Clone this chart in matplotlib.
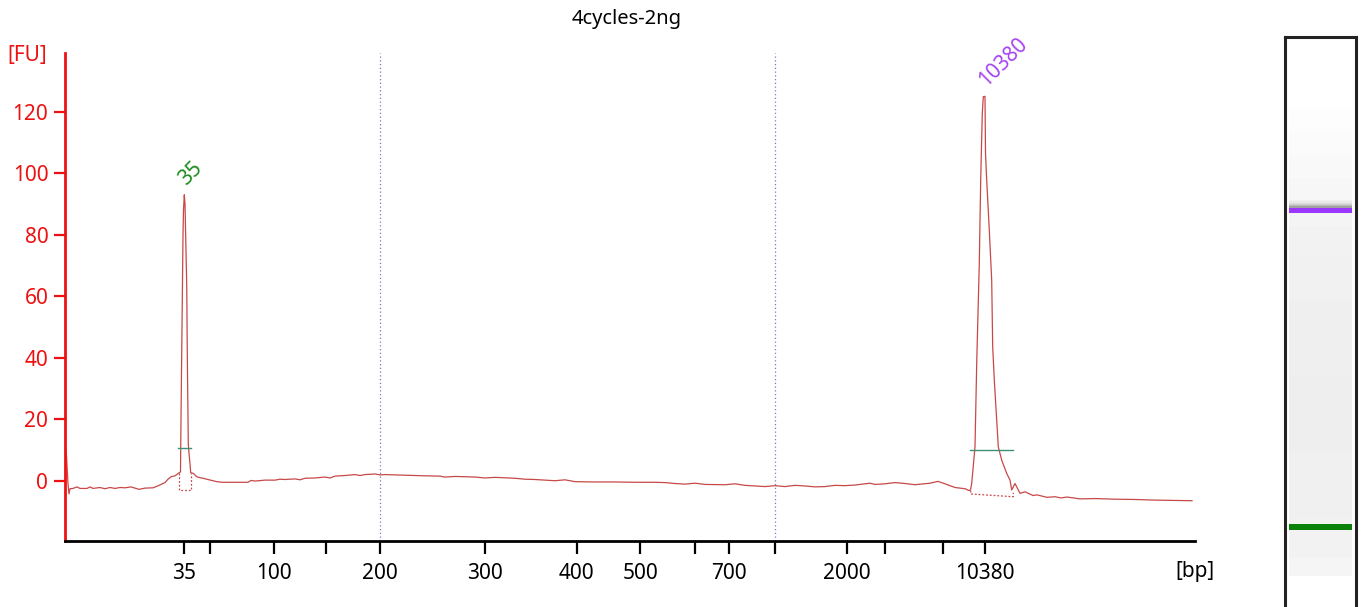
import matplotlib
matplotlib.use("Agg")
import matplotlib.pyplot as plt
import numpy as np

plt.rcParams['font.family'] = ['Noto Sans', 'DejaVu Sans']

# electropherogram trace, migration time (arbitrary units) vs fluorescence [FU]
trace_time = [0.05, 0.15, 0.3, 0.4, 0.5, 0.8, 1.2, 1.5, 2.2, 2.5, 2.8, 3.5, 4.0, 4.5, 5.0, 5.5,
              6.0, 6.6, 7.0, 7.4, 8.0, 8.8, 9.2, 9.6, 10.0, 10.3, 10.6, 11.0, 11.35, 11.55,
              11.6, 11.7, 11.8, 11.85, 11.93, 12.0, 12.1, 12.17, 12.25, 12.33, 12.4, 12.5, 12.57,
              12.83, 13.17, 13.5, 13.83, 14.5, 15.17, 15.7, 17.0, 17.3, 18.3, 18.6, 19.0, 20.0,
              21.0, 21.5, 22.0, 23.0, 23.5, 24.0, 25.0, 26.0, 26.5, 27.0, 28.0, 29.0, 29.5, 30.0,
              31.0, 31.5, 32.0, 33.0, 34.0, 35.0, 36.0, 37.5, 38.0, 39.0, 41.0, 42.0, 43.0, 45.0,
              46.0, 47.0, 49.0, 50.0, 51.0, 53.0, 55.0, 57.0, 59.0, 60.0, 61.0, 62.0, 63.0, 64.0,
              66.0, 67.0, 68.0, 70.0, 71.0, 72.0, 73.0, 74.0, 75.0, 76.0, 77.0, 78.0, 79.0, 80.5,
              81.0, 82.0, 83.0, 84.0, 85.0, 86.5, 87.3, 88.0, 89.0, 90.0, 90.4, 90.55,
              90.67, 91.0, 91.17, 91.43, 91.57, 91.73, 91.83, 92.0, 92.05, 92.17, 92.43, 92.67,
              92.77, 92.93, 93.33, 93.67, 94.17, 94.5, 94.67, 95.0, 95.5, 96.0, 96.8, 97.2, 98.2,
              99.0, 99.6, 100.2, 101.5, 103.0, 105.0, 107.0, 109.0, 111.0, 112.7]
trace_fu = [10.0, 8.0, -1.0, -4.3, -2.6, -2.5, -2.0, -2.5, -2.5, -2.0, -2.5, -2.2, -2.6, -2.2, -2.5, -2.2,
            -2.3, -2.0, -2.4, -2.8, -2.4, -2.3, -1.8, -1.2, -0.6, 0.5, 1.3, 1.6, 2.4, 2.9,
            20.0, 50.0, 80.0, 88.0, 93.0, 90.0, 75.0, 64.0, 35.0, 12.0, 8.9, 5.6, 2.6,
            2.4, 1.3, 1.0, 0.77, 0.23, -0.3, -0.5, -0.5, -0.5, -0.5, 0.1, -0.1, 0.2,
            0.2, 0.5, 0.4, 0.6, 0.3, 0.8, 0.9, 1.2, 0.9, 1.5, 1.7, 2.0, 1.7, 2.0,
            2.2, 1.9, 2.0, 1.9, 1.8, 1.7, 1.6, 1.5, 1.2, 1.4, 1.2, 0.9, 1.1, 0.8,
            0.5, 0.4, 0.0, 0.3, -0.3, -0.4, -0.4, -0.5, -0.5, -0.6, -0.9, -1.1, -0.8, -1.2,
            -1.3, -1.0, -1.5, -1.9, -1.6, -1.9, -1.5, -1.7, -2.0, -1.9, -1.5, -1.6, -1.4, -0.8,
            -1.2, -1.0, -0.6, -0.9, -1.3, -0.8, -0.2, -1.0, -2.2, -2.6, -3.2, -3.0,
            -0.9, 11.0, 38.0, 70.8, 97.8, 119.6, 124.9, 125.0, 106.6, 97.8, 81.5, 65.2,
            43.5, 32.8, 11.0, 6.7, 2.4, 0.2, -3.0, -0.9, -4.1, -3.6, -4.8, -4.6, -5.4,
            -5.2, -5.6, -5.3, -5.9, -5.8, -6.0, -6.1, -6.3, -6.4, -6.5]

# ladder: sizes and their migration times
ladder_bp = [35, 50, 100, 150, 200, 300, 400, 500, 600, 700, 1000, 2000, 3000, 7000, 10380]
ladder_time = [11.9, 14.5, 20.93, 26.13, 31.53, 41.97, 51.17, 57.53, 63.0, 66.37, 70.97,
               78.2, 82.0, 87.8, 92.0]
ladder_shown = [35, 100, 200, 300, 400, 500, 700, 2000, 10380]
grid_bp = [200, 1000]

# called peaks (markers)
peak_label = ['35', '10380']
peak_time = [11.9, 91.9]
peak_fu = [93.0, 125.0]
peak_start = [11.43, 90.57]
peak_end = [12.57, 94.83]
peak_start_fu = [2.4, -3.2]
peak_end_fu = [2.6, -3.9]
peak_base_lo = [-3.0, -4.3]
peak_base_hi = [-3.0, -5.2]
peak_hline = [10.5, 9.9]
peak_color = ['#1e8c1e', '#a445f0']
band_color = ['#0a820a', '#9b36ff']

red = '#ee1111'
W, H = 1361, 607
fig = plt.figure(figsize=(W / 100, H / 100), dpi=100)
ax = fig.add_axes([65 / W, 1 - 540.7 / H, (1195 - 65) / W, (540.7 - 53) / H])

ax.plot(trace_time, trace_fu, color='#c84848', lw=0.9)
for i in range(len(peak_label)):
    ax.plot([peak_start[i], peak_start[i], peak_end[i], peak_end[i]],
            [peak_start_fu[i], peak_base_lo[i], peak_base_hi[i], peak_end_fu[i]],
            color='#c84848', lw=0.9, ls=(0, (1.5, 1.5)))
    ax.plot([peak_start[i] - 0.1, peak_end[i]], [peak_hline[i]] * 2, color='#3f8f78', lw=1.0)
    ax.annotate(peak_label[i], (peak_time[i], peak_fu[i]), xytext=(4, 4),
                textcoords='offset points', rotation=45, rotation_mode='anchor',
                ha='left', va='bottom', color=peak_color[i], fontsize=15)

for b in grid_bp:
    ax.axvline(ladder_time[ladder_bp.index(b)], color='#7777cc', lw=0.9, ls=(0, (1, 2)))

ax.set_xlim(0, 113)
ax.set_ylim(-19.5, 139.1)
ax.set_xticks(ladder_time)
ax.set_xticklabels([str(b) if b in ladder_shown else '' for b in ladder_bp])
ax.set_yticks([0, 20, 40, 60, 80, 100, 120])
ax.tick_params(axis='x', length=9, width=1.6, color='black', pad=7, labelsize=15)
ax.tick_params(axis='y', length=8, width=1.6, color=red, labelcolor=red, pad=4, labelsize=15)
for s in ['top', 'right']:
    ax.spines[s].set_visible(False)
ax.spines['left'].set_color(red)
ax.spines['left'].set_linewidth(2)
ax.spines['bottom'].set_linewidth(2)

fig.text(627 / W, 1 - 19 / H, '4cycles-2ng', ha='center', va='center', fontsize=14.5)
fig.text(27 / W, 1 - 55 / H, '[FU]', ha='center', va='center', fontsize=15, color=red)
fig.text(1195 / W, 1 - 572 / H, '[bp]', ha='center', va='center', fontsize=15)

# gel-like lane
lane = fig.add_axes([1285 / W, 0, 71 / W, (607 - 37) / H])
lane.set_xlim(0, 1)
lane.set_ylim(-8.3, 135.7)
lane.set_xticks([])
lane.set_yticks([])
for s in ['top', 'left', 'right']:
    lane.spines[s].set_linewidth(2.2)
    lane.spines[s].set_color('#222222')
lane.spines['bottom'].set_visible(False)
bg_lo = [-0.5, 4, 14, 31, 50, 69, 80, 88, 94.5, 100, 106, 112]
bg_hi = [4, 14, 31, 50, 69, 80, 88, 91.3, 100, 106, 112, 118]
bg_col = ['#f5f5f5', '#f2f2f2', '#f0f0f0', '#eeeeee', '#efefef', '#f1f1f1', '#f2f2f2',
          '#f4f4f4', '#f7f7f7', '#f9f9f9', '#fbfbfb', '#fdfdfd']
for lo, hi, c in zip(bg_lo, bg_hi, bg_col):
    lane.axhspan(lo, hi, xmin=0.05, xmax=0.95, color=c, lw=0)
shade = ['#a0a0a0', '#bababa', '#cecece', '#dddddd', '#e8e8e8', '#f0f0f0']
for k, c in enumerate(shade):
    lane.axhspan(92.55 + 0.33 * k, 92.55 + 0.33 * (k + 1), xmin=0.05, xmax=0.95, color=c, lw=0)
for t, c in zip(peak_time, band_color):
    lane.axhspan(t - 0.72, t + 0.72, xmin=0.05, xmax=0.95, color=c, lw=0)

fig.savefig('out.png', dpi=100)
